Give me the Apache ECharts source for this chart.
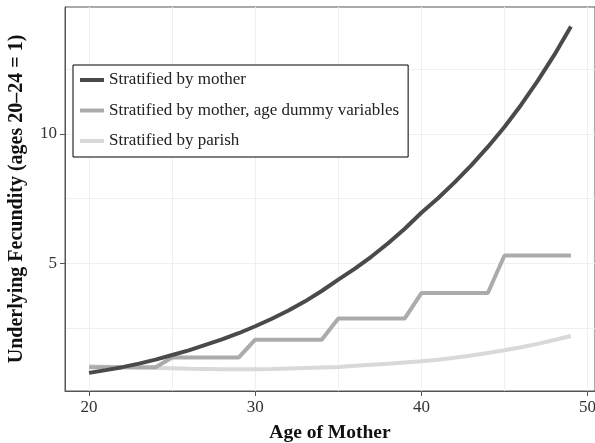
<!DOCTYPE html>
<html>
<head>
<meta charset="utf-8">
<script src="https://cdn.jsdelivr.net/npm/echarts@6/dist/echarts.min.js"></script>
<style>
  html, body { margin: 0; padding: 0; background: #fff; }
  #chart { width: 595px; height: 443px; }
</style>
</head>
<body>
<div id="chart"></div>
<script>
// ages on the x axis
var ages = [20, 21, 22, 23, 24, 25, 26, 27, 28, 29,
            30, 31, 32, 33, 34, 35, 36, 37, 38, 39,
            40, 41, 42, 43, 44, 45, 46, 47, 48, 49];

var byMother = [0.78, 0.885, 1.0, 1.135, 1.29, 1.47, 1.65, 1.86, 2.07, 2.31,
                2.58, 2.87, 3.19, 3.54, 3.94, 4.38, 4.80, 5.27, 5.78, 6.34,
                6.96, 7.52, 8.13, 8.79, 9.50, 10.27, 11.12, 12.05, 13.05, 14.15];
var byMotherDummies = [1, 1, 1, 1, 1, 1.37, 1.37, 1.37, 1.37, 1.37,
                       2.06, 2.06, 2.06, 2.06, 2.06, 2.88, 2.88, 2.88, 2.88, 2.88,
                       3.86, 3.86, 3.86, 3.86, 3.86, 5.31, 5.31, 5.31, 5.31, 5.31];
var byParish = [1.04, 1.02, 1.0, 0.98, 0.97, 0.96, 0.94, 0.93, 0.92, 0.92,
                0.92, 0.93, 0.95, 0.97, 0.99, 1.01, 1.05, 1.09, 1.13, 1.18,
                1.23, 1.29, 1.36, 1.45, 1.55, 1.65, 1.77, 1.90, 2.05, 2.20];

var seriesNames = ["Stratified by mother",
                   "Stratified by mother, age dummy variables",
                   "Stratified by parish"];

var xTicks = [20, 30, 40, 50];
var yTicks = [5, 10];
var xGrid = [20, 25, 30, 35, 40, 45, 50];
var yGrid = [2.5, 5, 7.5, 10, 12.5];

function pairs(vals) {
  return ages.map(function (a, i) { return [a, vals[i]]; });
}

var font = "Liberation Serif";
var gridLines = [];
xGrid.forEach(function (v) { gridLines.push({ xAxis: v }); });
yGrid.forEach(function (v) { gridLines.push({ yAxis: v }); });

var myChart = echarts.init(document.getElementById("chart"));
var option = {
  animation: false,
  textStyle: { fontFamily: font },
  grid: {
    left: 65,
    right: 0,
    top: 7,
    bottom: 52,
    outerBoundsMode: "none",
    containLabel: false,
    show: true,
    borderColor: "#555",
    borderWidth: 1,
    backgroundColor: "#fff"
  },
  legend: {
    orient: "vertical",
    left: 73,
    top: 65,
    z: 20,
    data: seriesNames,
    backgroundColor: "#fff",
    borderColor: "#000",
    borderWidth: 1,
    padding: [5, 9, 6, 7],
    itemGap: 10.5,
    itemWidth: 24,
    itemHeight: 4,
    itemTextGap: 7,
    icon: "rect",
    textStyle: {
      fontFamily: font,
      fontSize: 17,
      color: "#222",
      lineHeight: 20
    }
  },
  xAxis: {
    type: "value",
    min: 18.55,
    max: 50.45,
    name: "Age of Mother",
    nameLocation: "middle",
    nameGap: 32,
    nameTextStyle: {
      fontFamily: font,
      fontSize: 19.5,
      fontWeight: "bold",
      color: "#111"
    },
    axisLine: { show: true, lineStyle: { color: "#555", width: 1 } },
    axisTick: { show: true, customValues: xTicks, length: 5, lineStyle: { color: "#555" } },
    axisLabel: { customValues: xTicks, fontSize: 17, color: "#333", margin: 8, fontFamily: font },
    splitLine: { show: false }
  },
  yAxis: {
    type: "value",
    min: 0.08,
    max: 14.9,
    name: "Underlying Fecundity (ages 20\u201324 = 1)",
    nameLocation: "middle",
    nameGap: 38,
    nameTextStyle: {
      fontFamily: font,
      fontSize: 20,
      fontWeight: "bold",
      color: "#111"
    },
    axisLine: { show: true, lineStyle: { color: "#555", width: 1 } },
    axisTick: { show: true, customValues: yTicks, length: 5, lineStyle: { color: "#555" } },
    axisLabel: { customValues: yTicks, fontSize: 17, color: "#333", margin: 8, fontFamily: font },
    splitLine: { show: false }
  },
  series: [
    {
      name: "grid",
      type: "line",
      data: [],
      z: 0,
      silent: true,
      markLine: {
        silent: true,
        symbol: "none",
        animation: false,
        z: 0,
        label: { show: false },
        lineStyle: { color: "#efefef", width: 1, type: "solid" },
        data: gridLines
      }
    },
    {
      name: seriesNames[2],
      type: "line",
      data: pairs(byParish),
      showSymbol: false,
      z: 3,
      color: "#d9d9d9",
      lineStyle: { color: "#d9d9d9", width: 4 }
    },
    {
      name: seriesNames[1],
      type: "line",
      data: pairs(byMotherDummies),
      showSymbol: false,
      z: 4,
      color: "#ababab",
      lineStyle: { color: "#ababab", width: 4 }
    },
    {
      name: seriesNames[0],
      type: "line",
      data: pairs(byMother),
      showSymbol: false,
      z: 5,
      color: "#4a4a4a",
      lineStyle: { color: "#4a4a4a", width: 4 }
    }
  ]
};
myChart.setOption(option);
window.addEventListener("resize", function () {
  myChart.resize();
});
</script>
</body>
</html>
